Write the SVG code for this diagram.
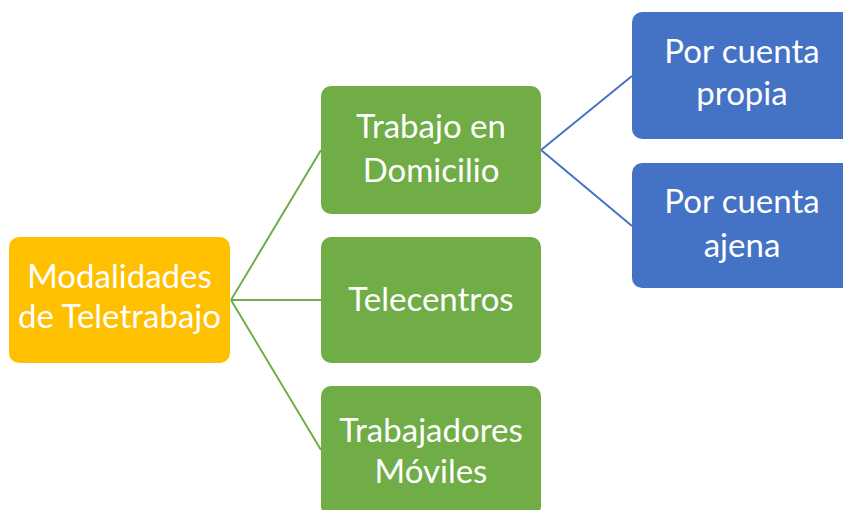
<svg xmlns="http://www.w3.org/2000/svg" width="843" height="510" viewBox="0 0 843 510">
<style>
.t{font-family:Lato,"Open Sans","Liberation Sans",sans-serif;font-size:33px;fill:#fff;text-anchor:middle}
.o{fill:#FFC000}.g{fill:#70AD47}.b{fill:#4472C4}
.cg{stroke:#70AD47;stroke-width:2;fill:none}.cb{stroke:#4472C4;stroke-width:2;fill:none}
</style>
<rect width="843" height="510" fill="#fff"/>
<g id="connectors">
<path class="cg" d="M231 300 L321 150 M231 300 L321 300 M231 300 L321 450"/>
<path class="cb" d="M541 150 L632 76 M541 150 L632 226"/>
</g>
<g id="n-modalidades"><rect class="o" x="9" y="237" width="221" height="126" rx="10"/><text class="t" x="119.5" y="288">Modalidades</text><text class="t" x="119.5" y="328">de Teletrabajo</text></g>
<g id="n-domicilio"><rect class="g" x="321" y="86" width="220" height="128" rx="10"/><text class="t" x="431" y="138">Trabajo en</text><text class="t" x="431" y="182">Domicilio</text></g>
<g id="n-telecentros"><rect class="g" x="321" y="237" width="220" height="126" rx="10"/><text class="t" x="431" y="311">Telecentros</text></g>
<g id="n-moviles"><rect class="g" x="321" y="386" width="220" height="130" rx="10"/><text class="t" x="431" y="442">Trabajadores</text><text class="t" x="431" y="483">Móviles</text></g>
<g id="n-propia"><rect class="b" x="632" y="12" width="221" height="127" rx="10"/><text class="t" x="742" y="63">Por cuenta</text><text class="t" x="742" y="105">propia</text></g>
<g id="n-ajena"><rect class="b" x="632" y="163" width="221" height="125" rx="10"/><text class="t" x="742" y="213">Por cuenta</text><text class="t" x="742" y="257">ajena</text></g>
</svg>
